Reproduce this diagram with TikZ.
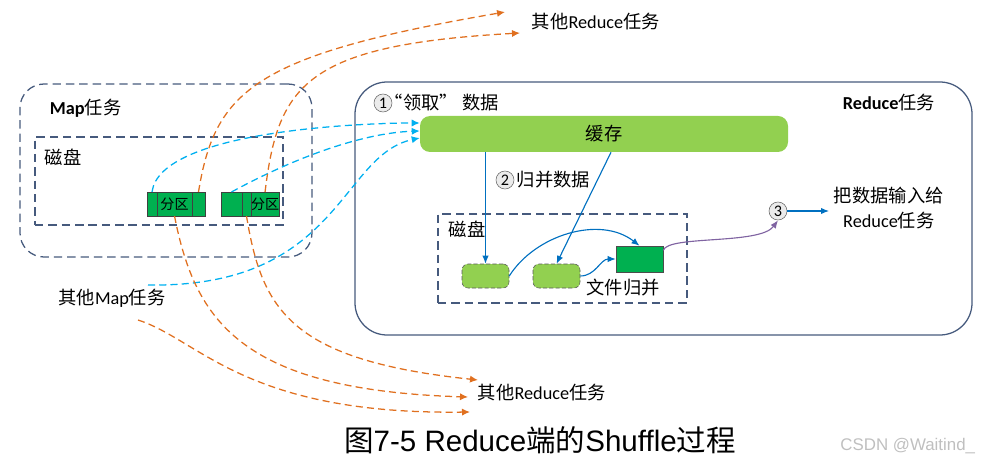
\documentclass[tikz,border=0pt]{standalone}
\usepackage{fontspec}
\setmainfont{Carlito}
\newfontfamily\cjk{Noto Sans CJK SC}
\newfontfamily\capfont{Liberation Sans}
\newcommand{\zh}[1]{{\cjk #1}}
\usepackage{tikz}
\usepackage{xcolor}
\usetikzlibrary{arrows.meta}
\usetikzlibrary{positioning}

\definecolor{taskLine}{RGB}{70,90,125}
\definecolor{fetchBlue}{HTML}{00B0F0}
\definecolor{sendOrange}{HTML}{E07020}
\definecolor{mergeBlue}{HTML}{0070C0}
\definecolor{cacheGreen}{HTML}{92D050}
\definecolor{partGreen}{HTML}{00B050}
\definecolor{outPurple}{HTML}{8064A2}

\tikzstyle{taskBox}=[draw=taskLine, line width=0.9pt, rounded corners=0.8cm]
\tikzstyle{diskBox}=[draw=taskLine, line width=1.2pt, dash pattern=on 6pt off 3.5pt]
\tikzstyle{partCell}=[draw=black!75, fill=partGreen, minimum height=0.6cm, inner sep=0pt, outer sep=0pt, font=\fontsize{10}{10}\selectfont\cjk]
\tikzstyle{runBox}=[draw=black!65, dash pattern=on 3pt off 1.5pt, fill=cacheGreen, rounded corners=0.15cm, minimum width=1.175cm, minimum height=0.6cm]
\tikzstyle{stepMark}=[circle, draw=black!60, fill=black!8, minimum size=0.45cm, inner sep=0pt, font=\fontsize{11.5}{11.5}\selectfont]
\tikzstyle{fetchArrow}=[fetchBlue, line width=0.9pt, dash pattern=on 5pt off 3pt, -{Latex[length=2mm,width=1.8mm]}]
\tikzstyle{sendArrow}=[sendOrange, line width=0.9pt, dash pattern=on 5pt off 3pt, -{Latex[length=2mm,width=1.8mm]}]
\tikzstyle{mergeArrow}=[mergeBlue, line width=0.8pt, -{Latex[length=2mm,width=1.6mm]}]

\begin{document}
\begin{tikzpicture}[font=\fontsize{13}{17.5}\selectfont]
  \useasboundingbox (0,0) rectangle (24.6,11.6);

  % Map task
  \node [taskBox, rounded corners=0.6cm, dash pattern=on 6pt off 3.5pt, minimum width=7.3cm, minimum height=4.325cm] (mapTask) at (4.15,7.3375) {};
  \node [anchor=west] (mapTitle) at (1.125,8.9) {\textbf{Map}\zh{任务}};
  \node [diskBox, minimum width=6.2cm, minimum height=2.2cm] (mapDisk) at (3.975,7.075) {};
  \node [anchor=west] (mapDiskText) at (1.0,7.675) {\zh{磁盘}};

  \node [partCell, minimum width=0.25cm] (partA1) at (3.8,6.5) {};
  \node [partCell, minimum width=0.875cm, right=0pt of partA1] (partA2) {分区};
  \node [partCell, minimum width=0.325cm, right=0pt of partA2] (partA3) {};

  \node [partCell, minimum width=0.525cm] (partB1) at (5.7875,6.5) {};
  \node [partCell, minimum width=0.225cm, right=0pt of partB1] (partB2) {};
  \node [partCell, minimum width=0.7cm, right=0pt of partB2] (partB3) {分区};

  \node (otherMap) at (2.8,4.15) {\zh{其他}Map\zh{任务}};
  \coordinate (otherMapUp) at (3.7,4.475);
  \coordinate (otherMapDown) at (3.45,3.6);

  % Reduce task
  \node [taskBox, minimum width=15.425cm, minimum height=6.325cm] (reduceTask) at (16.5875,6.3875) {};
  \node [anchor=east] (reduceTitle) at (23.5,9.025) {\textbf{Reduce}\zh{任务}};
  \node [stepMark] (stepFetch) at (9.575,9.025) {1};
  \node [anchor=west] (fetchText) at (9.5,9.025) {\zh{“领取” 数据}};
  \node [fill=cacheGreen, rounded corners=0.25cm, minimum width=9.2cm, minimum height=0.9cm] (cache) at (15.1,8.25) {\zh{缓存}};
  \node [stepMark] (stepMerge) at (12.625,7.1) {2};
  \node [anchor=west] (mergeText) at (12.8,7.1) {\zh{归并数据}};

  \node [diskBox, minimum width=6.225cm, minimum height=2.225cm] (reduceDisk) at (14.0625,5.1375) {};
  \node [anchor=west] (reduceDiskText) at (11.1,5.875) {\zh{磁盘}};
  \node [runBox] (runA) at (12.1375,4.7) {};
  \node [runBox] (runB) at (13.9125,4.7) {};
  \node [draw=black!70, fill=partGreen, minimum width=1.175cm, minimum height=0.65cm] (mergedFile) at (15.9875,5.125) {};
  \node (mergedText) at (15.575,4.4) {\zh{文件归并}};

  \node [stepMark] (stepInput) at (19.45,6.325) {3};
  \node [anchor=west, align=center] (inputText) at (20.725,6.4) {\zh{把数据输入给}\\Reduce\zh{任务}};

  % Other reduce tasks
  \node [anchor=west] (topReduce) at (13.175,11.05) {\zh{其他}Reduce\zh{任务}};
  \coordinate (topTipA) at (12.625,11.3);
  \coordinate (topTipB) at (13.0,10.775);
  \node [anchor=west] (bottomReduce) at (11.825,1.775) {\zh{其他}Reduce\zh{任务}};
  \coordinate (bottomTipA) at (11.95,2.1);
  \coordinate (bottomTipB) at (11.7,1.675);
  \coordinate (bottomTipC) at (11.75,1.3);

  \node (caption) at (13.5,0.6) {\fontsize{21}{24}\selectfont\zh{图}{\capfont 7-5 Reduce}\zh{端的}{\capfont Shuffle}\zh{过程}};
  \node [anchor=east, text=black!25, font=\fontsize{12}{12}\capfont] (watermark) at (24.5,0.45) {CSDN @Waitind\_};

  % Fetch
  \draw[fetchArrow] (partA1.north) .. controls (4.0,8.35) and (9.15,8.525) .. ([yshift=0.275cm]cache.west);
  \draw[fetchArrow] (partB1.north) .. controls (7.25,7.6) and (9.0,8.275) .. ([yshift=0.075cm]cache.west);
  \draw[fetchArrow] (otherMapUp) .. controls (8.5,4.4) and (8.5,7.725) .. ([yshift=-0.1cm]cache.west);

  % Send to other reduce tasks
  \draw[sendArrow] (partA3.north) .. controls (5.375,9.35) and (6.375,10.225) .. (topTipA);
  \draw[sendArrow] (partB3.north) .. controls (6.95,9.475) and (7.625,10.475) .. (topTipB);
  \draw[sendArrow] (partA2.south) .. controls (4.875,3.6) and (6.0,1.85) .. (bottomTipB);
  \draw[sendArrow] (partB2.south) .. controls (6.55,3.85) and (7.25,2.6) .. (bottomTipA);
  \draw[sendArrow] (otherMapDown) .. controls (5.0,3.1) and (6.125,1.225) .. (bottomTipC);

  % Merge
  \draw[mergeArrow] (cache.south -| runA.north) -- (runA.north);
  \draw[mergeArrow] ([xshift=0.175cm]cache.south) -- (runB.north);
  \draw[mergeArrow] (runA.east) .. controls (13.375,5.725) and (15.0,6.225) .. (mergedFile.north);
  \draw[mergeArrow] (runB.east) to[out=0,in=180] (mergedFile.west);
  \draw[outPurple, line width=0.8pt, -{Latex[length=2mm,width=1.6mm]}] (mergedFile.20) .. controls (16.7,5.725) and (19.0,5.475) .. (stepInput.south);
  \draw[mergeArrow] (stepInput.east) -- (stepInput.east -| inputText.west);

\end{tikzpicture}
\end{document}
